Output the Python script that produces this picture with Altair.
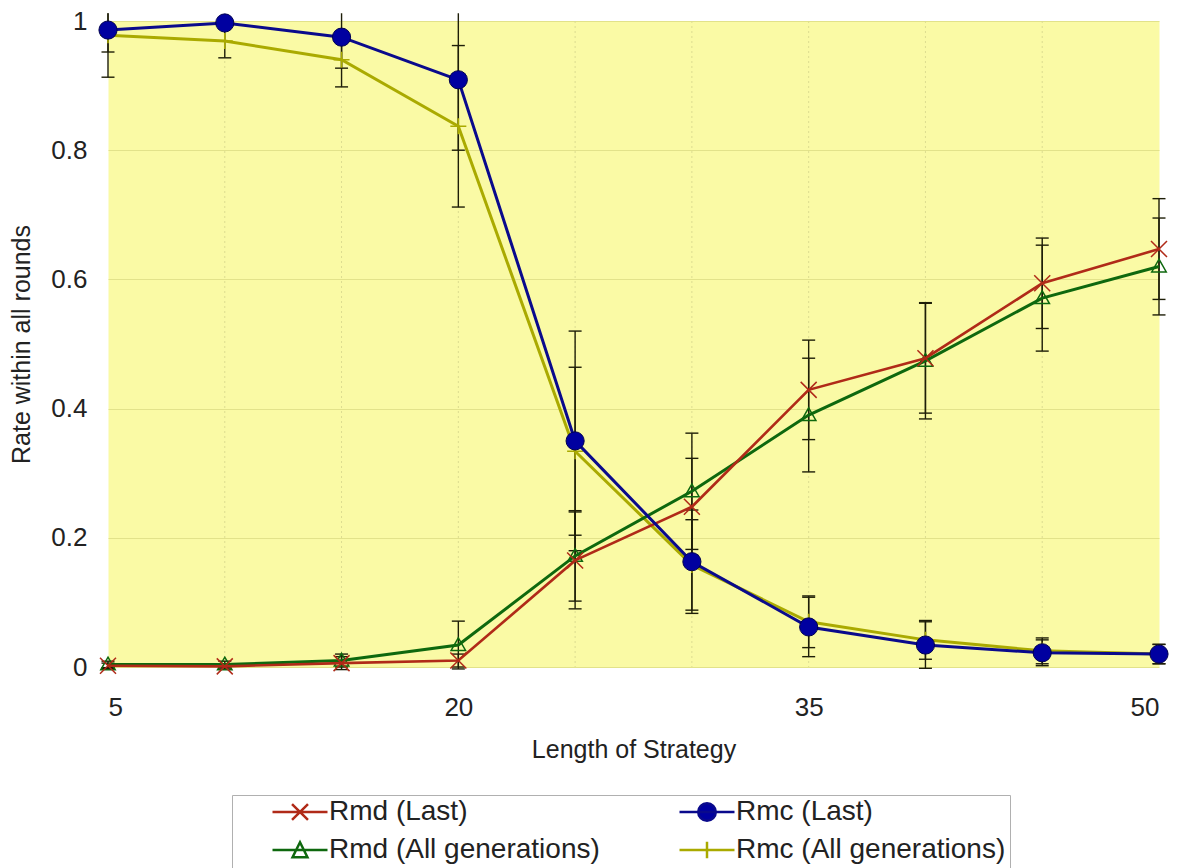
import altair as alt
import pandas as pd

# ---- data ----
lengths = [5, 10, 15, 20, 25, 30, 35, 40, 45, 50]
series_names = ["Rmd (Last)", "Rmc (Last)", "Rmd (All generations)", "Rmc (All generations)"]

rmd_last = [0.002, 0.001, 0.006, 0.010, 0.165, 0.248, 0.429, 0.478, 0.594, 0.647]
rmc_last = [0.986, 0.997, 0.975, 0.909, 0.350, 0.163, 0.062, 0.034, 0.022, 0.020]
rmd_all = [0.004, 0.004, 0.010, 0.034, 0.172, 0.272, 0.390, 0.474, 0.571, 0.620]
rmc_all = [0.978, 0.969, 0.940, 0.837, 0.334, 0.158, 0.070, 0.042, 0.025, 0.020]

rmd_last_err = [0.004, 0.004, 0.010, 0.010, 0.075, 0.075, 0.077, 0.085, 0.070, 0.078]
rmc_last_err = [0.034, 0.004, 0.048, 0.109, 0.170, 0.080, 0.046, 0.036, 0.020, 0.015]
rmd_all_err = [0.005, 0.005, 0.010, 0.037, 0.070, 0.090, 0.088, 0.090, 0.082, 0.075]
rmc_all_err = [0.065, 0.026, 0.042, 0.125, 0.130, 0.070, 0.040, 0.030, 0.020, 0.015]

x_label_values = [5, 20, 35, 50]
x_grid_values = [10, 15, 20, 25, 30, 35, 40, 45]
y_tick_values = [0, 0.2, 0.4, 0.6, 0.8, 1]

# legend order (filled column by column: left column Rmd, right column Rmc)
legend_order = ["Rmd (Last)", "Rmd (All generations)", "Rmc (Last)", "Rmc (All generations)"]

# ---- styles ----
colors = {
    "Rmd (Last)": "#B02A18",
    "Rmc (Last)": "#0A0A8C",
    "Rmd (All generations)": "#0E680E",
    "Rmc (All generations)": "#AAAA00",
}
FONT = "Liberation Sans"
TXT = "#222222"
ERR = "#1E1E08"

rows = []
for name, vals, errs in zip(series_names,
                            [rmd_last, rmc_last, rmd_all, rmc_all],
                            [rmd_last_err, rmc_last_err, rmd_all_err, rmc_all_err]):
    for L, v, e in zip(lengths, vals, errs):
        rows.append({"series": name, "length": L, "rate": v, "lo": v - e, "hi": v + e})
df = pd.DataFrame(rows)

xscale = alt.Scale(domain=[5, 50], nice=False, zero=False)
yscale = alt.Scale(domain=[0, 1], nice=False)

x_axis = alt.Axis(values=x_label_values, format="d", grid=False, ticks=False, domain=False,
                  labelFont=FONT, labelFontSize=26, labelColor=TXT, labelPadding=27,
                  titleFont=FONT, titleFontSize=25, titleFontWeight="normal", titleColor=TXT,
                  titlePadding=17)
y_axis = alt.Axis(values=y_tick_values, format="~g", grid=True, gridColor="#E2E28A", gridWidth=1,
                  ticks=False, domain=False,
                  labelFont=FONT, labelFontSize=26, labelColor=TXT, labelPadding=21,
                  titleFont=FONT, titleFontSize=25, titleFontWeight="normal", titleColor=TXT,
                  titlePadding=16)

X_TITLE = "Length of Strategy"
Y_TITLE = "Rate within all rounds"


def X(field):
    return alt.X(field, scale=xscale, axis=x_axis, title=X_TITLE)


def Y(field):
    return alt.Y(field, scale=yscale, axis=y_axis, title=Y_TITLE)


base = alt.Chart(df)

# vertical dotted grid
grid = alt.Chart(pd.DataFrame({"g": x_grid_values})).mark_rule(
    color="#DCDC90", strokeDash=[2, 3], strokeWidth=1
).encode(x=X("g:Q"))

# error bars
err_rule = base.transform_calculate(hi_c="min(datum.hi, 1.012)").mark_rule(
    color=ERR, strokeWidth=1.4, opacity=1
).encode(x=X("length:Q"), y=Y("lo:Q"), y2="hi_c:Q")

err_caps = base.transform_fold(["lo", "hi"], as_=["end", "val"]).transform_filter(
    "datum.val <= 1.011"
).mark_tick(orient="horizontal", size=13, thickness=1.4, color=ERR, opacity=1).encode(
    x=X("length:Q"), y=Y("val:Q")
)

layers = [grid, err_rule, err_caps]

marker_specs = {
    "Rmc (All generations)": dict(shape="M-1,0L1,0M0,-1L0,1", size=256, filled=False,
                                  stroke=colors["Rmc (All generations)"], strokeWidth=1.6),
    "Rmd (All generations)": dict(shape="M0,-1L1,0.75L-1,0.75Z", size=210, filled=False,
                                  stroke=colors["Rmd (All generations)"], strokeWidth=1.5),
    "Rmd (Last)": dict(shape="M-1,-1L1,1M-1,1L1,-1", size=256, filled=False,
                       stroke=colors["Rmd (Last)"], strokeWidth=1.5),
    "Rmc (Last)": dict(shape="circle", size=330, filled=True, fill="#0000A0",
                       stroke="#000050", strokeWidth=1),
}
line_widths = {"Rmc (All generations)": 3, "Rmd (All generations)": 3,
               "Rmd (Last)": 2.6, "Rmc (Last)": 3}

for name in ["Rmc (All generations)", "Rmd (All generations)", "Rmd (Last)", "Rmc (Last)"]:
    sub = base.transform_filter(alt.datum.series == name)
    layers.append(sub.mark_line(color=colors[name], strokeWidth=line_widths[name]).encode(
        x=X("length:Q"), y=Y("rate:Q")))
    layers.append(sub.mark_point(opacity=1, **marker_specs[name]).encode(
        x=X("length:Q"), y=Y("rate:Q")))

# legend (from a clipped, invisible helper layer)
legend_shape_by_name = {
    "Rmd (Last)": "M-1,0L1,0M-0.29,-0.29L0.29,0.29M-0.29,0.29L0.29,-0.29",
    "Rmc (Last)": "M-1,0L1,0M0.32,0A0.32,0.32,0,1,1,-0.32,0A0.32,0.32,0,1,1,0.32,0Z",
    "Rmd (All generations)": "M-1,0L1,0M0,-0.28L0.27,0.26L-0.27,0.26Z",
    "Rmc (All generations)": "M-1,0L1,0M0,-0.3L0,0.3",
}
legend_fill_by_name = {
    "Rmd (Last)": colors["Rmd (Last)"],
    "Rmc (Last)": "#0000A0",
    "Rmd (All generations)": "#FFFFFF",
    "Rmc (All generations)": colors["Rmc (All generations)"],
}
legend_shapes = [legend_shape_by_name[n] for n in legend_order]
legend_fills = [legend_fill_by_name[n] for n in legend_order]
legend_strokes = [colors[n] for n in legend_order]

leg = alt.Legend(orient="none", legendX=124, legendY=774, columns=2, columnPadding=43,
                 rowPadding=10, clipHeight=26, padding=4, symbolSize=3025,
                 symbolStrokeWidth=2.5, symbolOffset=35, labelOffset=0,
                 labelFont=FONT, labelFontSize=28, labelColor=TXT, labelLimit=500,
                 fillColor="#FFFFFF", strokeColor="#B0B0B0")

legend_layer = alt.Chart(pd.DataFrame({"series": legend_order})).mark_point(
    clip=True, size=3025, strokeWidth=2.5, opacity=1, filled=False
).encode(
    x=alt.value(-600), y=alt.value(-600),
    shape=alt.Shape("series:N", scale=alt.Scale(domain=legend_order, range=legend_shapes),
                    legend=leg, title=None),
    fill=alt.Fill("series:N", scale=alt.Scale(domain=legend_order, range=legend_fills),
                  legend=leg, title=None),
    stroke=alt.Stroke("series:N", scale=alt.Scale(domain=legend_order, range=legend_strokes),
                      legend=leg, title=None),
)
layers.append(legend_layer)

chart = alt.layer(*layers).properties(
    width=1051, height=646,
    padding={"left": 108, "top": 21, "right": 26, "bottom": 201},
    autosize=alt.AutoSizeParams(type="none"),
).configure_view(stroke="transparent", fill="#FAFAA5")

chart.save("out.html", embed_options={"renderer": "svg", "actions": False})
